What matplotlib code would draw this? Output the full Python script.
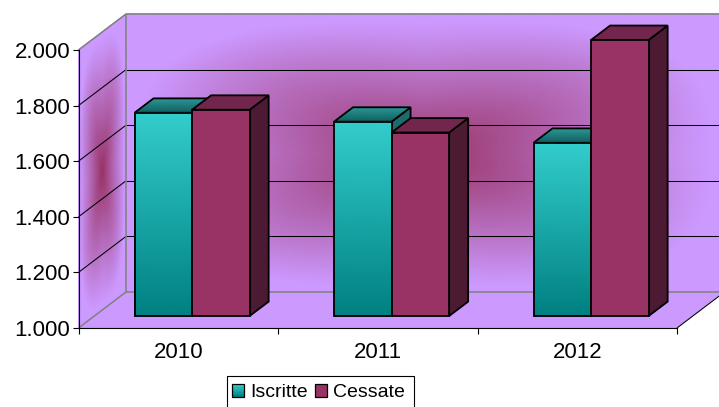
import numpy as np
import matplotlib
matplotlib.use("Agg")
import matplotlib.pyplot as plt
from matplotlib.colors import LinearSegmentedColormap
from matplotlib.legend_handler import HandlerBase
from matplotlib.patches import Patch, Polygon, Rectangle

# ---- data ----
YEARS = ["2010", "2011", "2012"]
ISCRITTE = [1731, 1699, 1623]
CESSATE = [1742, 1660, 1993]
Y_TICKS = [1000, 1200, 1400, 1600, 1800, 2000]
Y_LABELS = ["1.000", "1.200", "1.400", "1.600", "1.800", "2.000"]

# ---- colours ----
WALL = "#CC99FF"
WALL_DARK = "#993366"
TEAL_LIGHT = "#33CCCC"
TEAL_DARK = "#008080"
WINE = "#993366"
WINE_TOP = "#73264D"
WINE_SIDE = "#4D1A33"
GRAY = "#808080"

plt.rcParams["font.family"] = ["Liberation Sans", "DejaVu Sans"]

W, H = 719, 407
fig = plt.figure(figsize=(W / 100, H / 100), dpi=100)
ax = fig.add_axes([78.5 / W, 1 - 328 / H, (677 - 78.5) / W, 278 / H])
ax.set_xlim(0, 3)
ax.set_ylim(1000, 2000)

# depth axis: d=0 is the front of the box, d=1 the back wall
DX = 47.5 / (598.5 / 3)
DY = 36 / 0.278


def proj(x, v, d):
    return x + d * DX, v + d * DY


wall_cmap = LinearSegmentedColormap.from_list("wall", [WALL, WALL_DARK])
bar_cmap = LinearSegmentedColormap.from_list("bar", [TEAL_DARK, TEAL_LIGHT])
top_cmap = LinearSegmentedColormap.from_list("top", ["#0F5F5F", "#2E9595"])


def star_shade(a, b):
    # rounded "from centre" gradient, the rays to the corners stay dark near the middle
    u = np.abs(2 * a - 1)
    v = np.abs(2 * b - 1)
    big = np.minimum((u ** 3 + v ** 3) ** (1 / 3), 1)
    m = big - 0.8 * u * v * (1 - big)
    return np.clip(1 - m / 0.95, 0, 1) ** 1.1


a, b = np.meshgrid(np.linspace(0, 1, 200), np.linspace(0, 1, 200))

# back wall
X, Y = proj(a * 3, 1000 + b * 1000, 1)
m = ax.pcolormesh(X, Y, star_shade(a, b), cmap=wall_cmap, vmin=0, vmax=1,
                  shading="gouraud", zorder=1)
m.set_clip_on(False)

# side wall
X, Y = proj(0, 1000 + b * 1000, a)
m = ax.pcolormesh(X, Y, star_shade(a, b), cmap=wall_cmap, vmin=0, vmax=1,
                  shading="gouraud", zorder=1)
m.set_clip_on(False)

# floor
floor = [proj(0, 1000, 0), proj(3, 1000, 0), proj(3, 1000, 1), proj(0, 1000, 1)]
ax.add_patch(Polygon(floor, closed=True, fc=WALL, ec="none", zorder=1, clip_on=False))


def line3d(p, q, color, lw, z=2):
    ax.plot([p[0], q[0]], [p[1], q[1]], color=color, lw=lw, zorder=z,
            clip_on=False, solid_capstyle="butt")


# gridlines on side and back wall
for t in Y_TICKS[1:-1]:
    line3d(proj(0, t, 0), proj(0, t, 1), "black", 0.75)
    line3d(proj(0, t, 1), proj(3, t, 1), "black", 0.75)

# box frame
line3d(proj(0, 2000, 0), proj(0, 2000, 1), GRAY, 1.1)
line3d(proj(0, 2000, 1), proj(3, 2000, 1), GRAY, 1.1)
line3d(proj(0, 1000, 1), proj(0, 2000, 1), GRAY, 1.1)
line3d(proj(0, 1000, 0), proj(0, 1000, 1), GRAY, 1.1)
line3d(proj(0, 1000, 1), proj(3, 1000, 1), GRAY, 1.1)
line3d(proj(3, 1000, 0), proj(3, 1000, 1), "black", 0.75)

# bars
D0 = 1 / 3
D1 = D0 + 0.4
BAR_W = 0.2885
SHIFT = -0.01
EDGE = 1.3


def bar3d(x0, val, front, top, side, z):
    x1 = x0 + BAR_W
    base = 1000
    corners = [proj(x1, base, D0), proj(x1, base, D1), proj(x1, val, D1), proj(x1, val, D0)]
    ax.add_patch(Polygon(corners, closed=True, fc=side, ec="black", lw=EDGE, zorder=z, clip_on=False))
    # top face
    corners = [proj(x0, val, D0), proj(x1, val, D0), proj(x1, val, D1), proj(x0, val, D1)]
    if top is None:
        s = np.linspace(0, 1, 12)
        sx, sd = np.meshgrid(np.array([0, 1]), s)
        tx, ty = proj(x0 + sx * BAR_W, val, D0 + sd * (D1 - D0))
        tm = ax.pcolormesh(tx, ty, sd, cmap=top_cmap, vmin=0, vmax=1, shading="gouraud", zorder=z)
        tm.set_clip_on(False)
        ax.add_patch(Polygon(corners, closed=True, fc="none", ec="black", lw=EDGE, zorder=z, clip_on=False))
    else:
        ax.add_patch(Polygon(corners, closed=True, fc=top, ec="black", lw=EDGE, zorder=z, clip_on=False))
    # front face
    fx0, fy0 = proj(x0, base, D0)
    fx1, fy1 = proj(x1, val, D0)
    if front is None:
        s = np.linspace(0, 1, 30)
        gx, gy = np.meshgrid(np.array([fx0, fx1]), fy0 + s * (fy1 - fy0))
        gm = ax.pcolormesh(gx, gy, (gy - fy0) / (fy1 - fy0), cmap=bar_cmap, vmin=0, vmax=1,
                           shading="gouraud", zorder=z)
        gm.set_clip_on(False)
        ax.add_patch(Rectangle((fx0, fy0), fx1 - fx0, fy1 - fy0, fc="none", ec="black", lw=EDGE,
                               zorder=z, clip_on=False))
    else:
        ax.add_patch(Rectangle((fx0, fy0), fx1 - fx0, fy1 - fy0, fc=front, ec="black", lw=EDGE,
                               zorder=z, clip_on=False))


for i in range(len(YEARS)):
    left = i + 0.5 + SHIFT - BAR_W
    bar3d(left, ISCRITTE[i], None, None, "#1F6B6B", 3 + 2 * i)
    bar3d(left + BAR_W, CESSATE[i], WINE, WINE_TOP, WINE_SIDE, 4 + 2 * i)

# axes
for s in ["top", "right"]:
    ax.spines[s].set_visible(False)
for s in ["left", "bottom"]:
    ax.spines[s].set_linewidth(0.8)
    ax.spines[s].set_zorder(20)
ax.patch.set_visible(False)
ax.set_yticks(Y_TICKS, Y_LABELS)
ax.tick_params(axis="y", length=4, width=0.8, labelsize=16, pad=2)
ax.set_xticks([0, 1, 2, 3], [""] * 4)
ax.set_xticks([0.5, 1.5, 2.5], YEARS, minor=True)
ax.tick_params(axis="x", which="major", length=4.5, width=0.8)
ax.tick_params(axis="x", which="minor", length=0, labelsize=16, pad=10)


class GradientSwatch(HandlerBase):
    def create_artists(self, legend, orig, xd, yd, width, height, fontsize, trans):
        out = []
        x = -xd - 2
        if orig.get_label() == "Iscritte":
            for k in range(8):
                c = bar_cmap(1 - k / 7)
                out.append(Rectangle((x, -yd + height * (7 - k) / 8), width, height / 8,
                                     fc=c, ec="none", transform=trans))
        out.append(Rectangle((x, -yd), width, height,
                             fc="none" if orig.get_label() == "Iscritte" else WINE,
                             ec="black", lw=0.9, transform=trans))
        return out


handles = [Patch(label="Iscritte"), Patch(label="Cessate")]
handler = GradientSwatch()
leg = fig.legend(handles=handles, handler_map={h: handler for h in handles}, ncol=2,
                 loc="upper left", bbox_to_anchor=(226.5 / W, 1 - 376 / H), borderaxespad=0,
                 fontsize=14, frameon=True, fancybox=False, edgecolor="black", framealpha=1,
                 borderpad=0.43, handlelength=0.6, handleheight=0.6, handletextpad=0.2,
                 columnspacing=0.5)
leg.get_frame().set_linewidth(0.8)

fig.savefig("out.png", dpi=100)
